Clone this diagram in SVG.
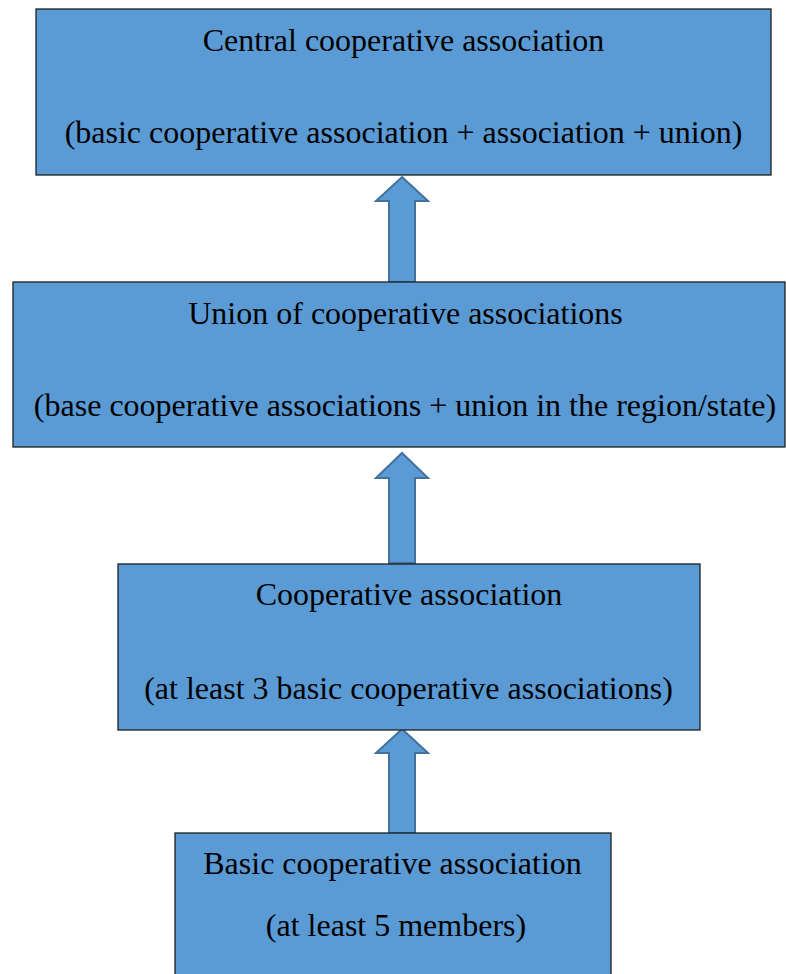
<svg xmlns="http://www.w3.org/2000/svg" width="786" height="974" viewBox="0 0 786 974">
<style>
.box{fill:#5B9BD5;stroke:#1F1F1F;stroke-width:1.3}
.arr{fill:#5B9BD5;stroke:#41719C;stroke-width:2;stroke-linejoin:miter}
text{font-family:"Liberation Serif","Times New Roman",serif;font-size:32px;fill:#000;text-anchor:middle}
</style>
<rect width="786" height="974" fill="#fff"/>
<g id="connectors">
<path class="arr" d="M402,177 L428,201 L415,201 L415,282 L389,282 L389,201 L376,201 Z"/>
<path class="arr" d="M402,453 L428,478 L415,478 L415,563 L389,563 L389,478 L376,478 Z"/>
<path class="arr" d="M402,729 L428,753 L415,753 L415,833 L389,833 L389,753 L376,753 Z"/>
</g>
<g id="central">
<rect class="box" x="36" y="9" width="735" height="166"/>
<text x="403.5" y="51">Central cooperative association</text>
<text x="403.5" y="143">(basic cooperative association + association + union)</text>
</g>
<g id="union">
<rect class="box" x="13" y="282" width="772" height="165"/>
<text x="405.5" y="324">Union of cooperative associations</text>
<text x="405" y="416">(base cooperative associations + union in the region/state)</text>
</g>
<g id="cooperative">
<rect class="box" x="118" y="564" width="582" height="166"/>
<text x="409" y="605">Cooperative association</text>
<text x="408.5" y="699">(at least 3 basic cooperative associations)</text>
</g>
<g id="basic">
<rect class="box" x="175" y="833" width="436" height="150"/>
<text x="392.5" y="874">Basic cooperative association</text>
<text x="396" y="936">(at least 5 members)</text>
</g>
</svg>
